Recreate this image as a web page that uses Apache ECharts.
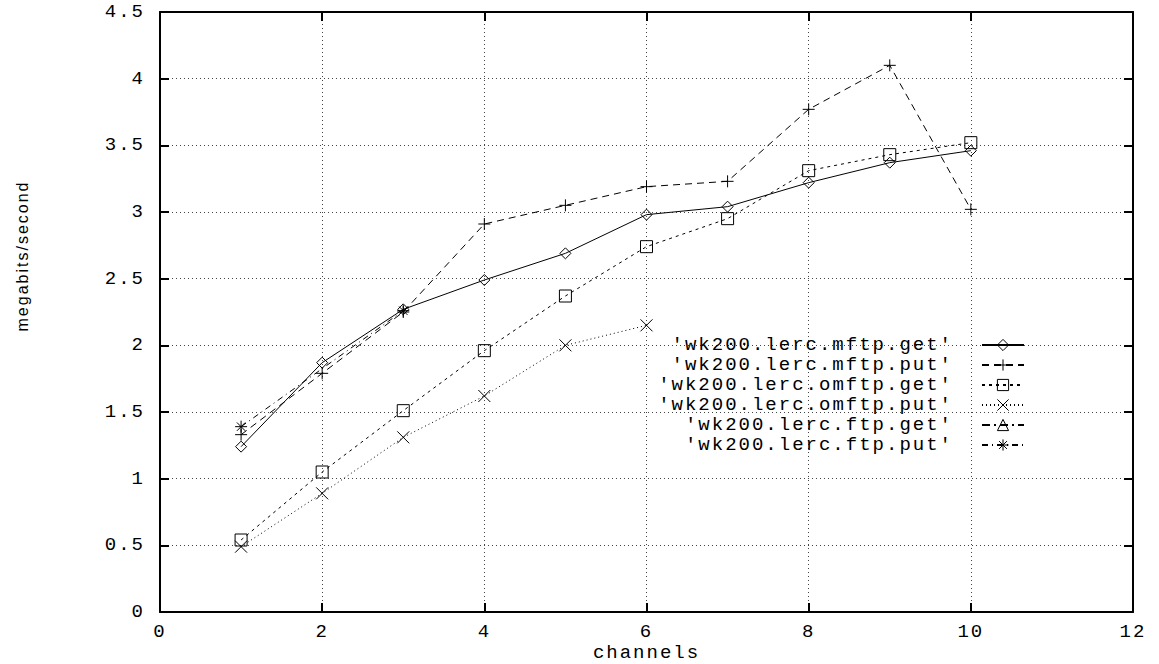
<!DOCTYPE html>
<html>
<head>
<meta charset="utf-8">
<script src="https://cdn.jsdelivr.net/npm/echarts@6/dist/echarts.min.js"></script>
<style>
  html, body { margin: 0; padding: 0; background: #fff; }
  #main { width: 1159px; height: 664px; }
  #main svg text { letter-spacing: 2px; }
</style>
</head>
<body>
<div id="main"></div>
<script>
// channels on the x axis
var channels = [1, 2, 3, 4, 5, 6, 7, 8, 9, 10];

// megabits/second per run
var mftpGet  = [1.24, 1.87, 2.27, 2.49, 2.69, 2.98, 3.04, 3.22, 3.37, 3.46];
var mftpPut  = [1.33, 1.79, 2.25, 2.91, 3.05, 3.19, 3.23, 3.77, 4.10, 3.02];
var omftpGet = [0.54, 1.05, 1.51, 1.96, 2.37, 2.74, 2.95, 3.31, 3.43, 3.52];
var omftpPut = [0.49, 0.89, 1.31, 1.62, 2.00, 2.15];
var ftpGetX = [];
var ftpGet  = [];
var ftpPutX = [1, 3];
var ftpPut  = [1.39, 2.26];

var seriesNames = [
  "'wk200.lerc.mftp.get'",
  "'wk200.lerc.mftp.put'",
  "'wk200.lerc.omftp.get'",
  "'wk200.lerc.omftp.put'",
  "'wk200.lerc.ftp.get'",
  "'wk200.lerc.ftp.put'"
];

var mono = '"Courier New", "Liberation Mono", monospace';

function pairs(xs, ys) {
  return ys.map(function (v, i) { return [xs[i], v]; });
}

function mkSeries(name, data, symbol, size, dash) {
  return {
    name: name,
    type: 'line',
    data: data,
    symbol: symbol,
    symbolSize: size,
    showAllSymbol: true,
    itemStyle: { color: 'rgba(0,0,0,0)', borderColor: '#000', borderWidth: 1 },
    lineStyle: { color: '#000', width: 1, type: dash },
    emphasis: { disabled: true }
  };
}

// frame axis with inward ticks (gnuplot mirror ticks), empty labels
function mirrorAxis(pos, max, interval) {
  return {
    type: 'value', min: 0, max: max, interval: interval, position: pos,
    axisLine: { show: true, onZero: false, lineStyle: { color: '#000', width: 2 } },
    axisTick: { show: true, inside: true, length: 9, lineStyle: { color: '#000', width: 2 } },
    axisLabel: { formatter: function () { return ''; } },
    splitLine: { lineStyle: { color: 'rgba(0,0,0,0)' } }
  };
}

var chart = echarts.init(document.getElementById('main'), null, { renderer: 'svg' });
chart.setOption({
  backgroundColor: '#fff',
  grid: { left: 160, right: 26, top: 12, bottom: 52, outerBoundsMode: 'none' },
  legend: {
    orient: 'vertical',
    align: 'right',
    right: 134,
    top: 335,
    padding: 0,
    itemGap: 0,
    itemWidth: 42,
    itemHeight: 14,
    selectedMode: false,
    itemStyle: { color: 'rgba(0,0,0,0)', borderColor: '#000', borderWidth: 1 },
    textStyle: { fontFamily: mono, fontSize: 19, color: '#000', lineHeight: 20, padding: [0, 24, 0, 0] },
    data: seriesNames
  },
  xAxis: [{
    type: 'value', min: 0, max: 12, interval: 2,
    name: 'channels', nameLocation: 'middle', nameGap: 31, nameMoveOverlap: false,
    nameTextStyle: { fontFamily: mono, fontSize: 19, color: '#000' },
    axisLine: { show: true, lineStyle: { color: '#000', width: 2 } },
    axisTick: { show: true, inside: true, length: 9, lineStyle: { color: '#000', width: 2 } },
    axisLabel: { fontFamily: mono, fontSize: 19, color: '#000', margin: 10 },
    splitLine: { show: true, lineStyle: { color: '#444', width: 1, type: [1, 3] } }
  }, mirrorAxis('top', 12, 2)],
  yAxis: [{
    type: 'value', min: 0, max: 4.5, interval: 0.5,
    axisLine: { show: true, lineStyle: { color: '#000', width: 2 } },
    axisTick: { show: true, inside: true, length: 9, lineStyle: { color: '#000', width: 2 } },
    axisLabel: { fontFamily: mono, fontSize: 19, color: '#000', margin: 15 },
    splitLine: { show: true, lineStyle: { color: '#444', width: 1, type: [1, 3] } }
  }, mirrorAxis('right', 4.5, 0.5)],
  graphic: [{
    type: 'text',
    x: 22, y: 256,
    rotation: Math.PI / 2,
    style: {
      text: 'megabits/second',
      fontFamily: '"Liberation Sans", sans-serif',
      fontSize: 16,
      fill: '#000',
      align: 'center',
      verticalAlign: 'middle'
    }
  }],
  series: [
    mkSeries(seriesNames[0], pairs(channels, mftpGet), 'diamond', [11, 11], 'solid'),
    mkSeries(seriesNames[1], pairs(channels, mftpPut), 'path://M0,6L12,6M6,0L6,12', 12, [7, 5]),
    mkSeries(seriesNames[2], pairs(channels, omftpGet), 'rect', 12, [3, 4]),
    mkSeries(seriesNames[3], pairs(channels, omftpPut), 'path://M0,0L12,12M12,0L0,12', 12, [1, 3]),
    mkSeries(seriesNames[4], pairs(ftpGetX, ftpGet), 'triangle', 12, [8, 4, 2, 4]),
    mkSeries(seriesNames[5], pairs(ftpPutX, ftpPut), 'path://M6,0L6,12M0,6L12,6M1.8,1.8L10.2,10.2M10.2,1.8L1.8,10.2', 12, [6, 4, 1, 4])
  ]
});
</script>
</body>
</html>
